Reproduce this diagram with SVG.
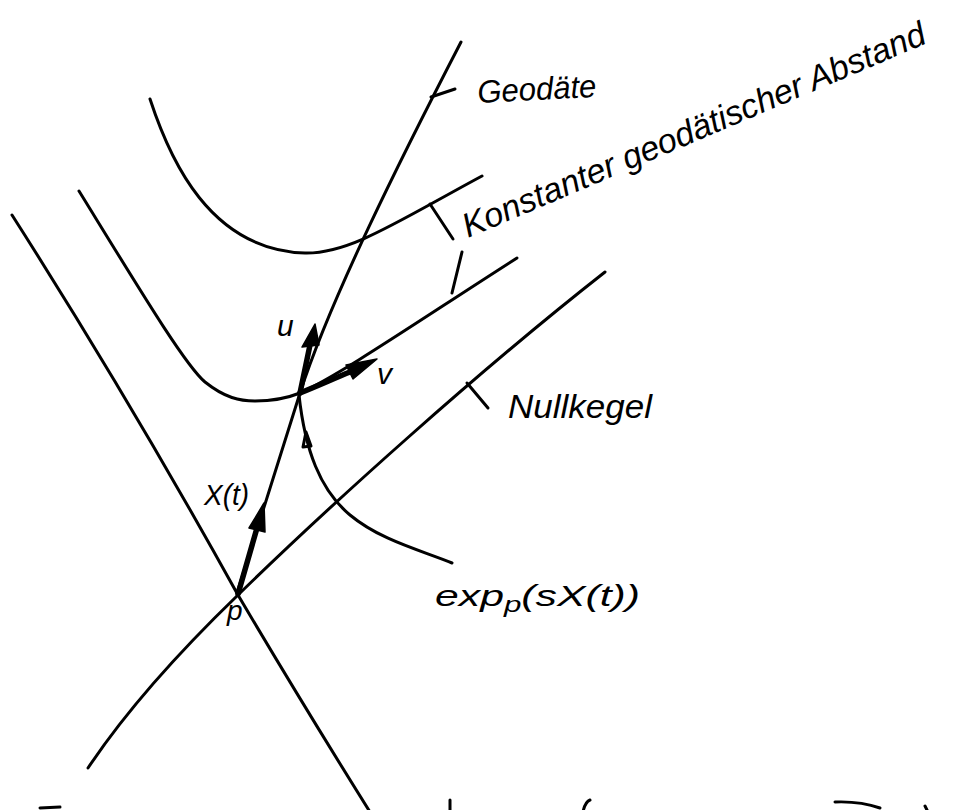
<svg xmlns="http://www.w3.org/2000/svg" width="958" height="810" viewBox="0 0 958 810">
<style>
.ln{fill:none;stroke:#000;stroke-width:3;stroke-linecap:round;stroke-linejoin:round}
.vec{fill:none;stroke:#000;stroke-width:5.5;stroke-linecap:round}
.head{fill:#000;stroke:#000;stroke-width:1.5;stroke-linejoin:round}
.lbl{font-family:"Liberation Sans",Arial,sans-serif;font-style:italic;fill:#000}
</style>
<rect width="958" height="810" fill="#fff"/>
<g id="connectors">
<path id="geodesic" class="ln" d="M461,42 C400,160 330,300 300,393 L237,593"/>
<path id="curve1" class="ln" d="M150,99 C170,160 210,250 305,253 C350,254 400,220 482,176"/>
<path id="curve2" class="ln" d="M79,191 C140,290 185,365 205,382 C225,398 240,401 255,401 C275,401 290,397 300,393 C340,375 420,320 517,258"/>
<path id="cone-left" class="ln" d="M12,215 Q130,400 238,595 Q300,700 370,812"/>
<path id="cone-right" class="ln" d="M88,768 C110,735 150,680 238,595 C330,505 480,370 605,272"/>
<path id="exp-curve" class="ln" d="M299,395 C305,450 320,490 350,515 C380,540 420,550 452,563"/>
<path class="ln" stroke-width="2" d="M303,447 L306,432 L311,446 Z"/>
<path id="tick-geo" class="ln" d="M431,97 L455,89"/>
<path id="tick-k1" class="ln" d="M430,204 L453,239"/>
<path id="tick-k2" class="ln" d="M462,252 L452,293"/>
<path id="tick-null" class="ln" d="M467,383 L488,408"/>
</g>
<g id="vec-X">
<path class="vec" d="M238,594 L257,528"/>
<polygon class="head" points="264,503 249,528 265,532"/>
</g>
<g id="vec-u">
<path class="vec" d="M300,393 L310,345"/>
<polygon class="head" points="315,324 302,347 319,345"/>
</g>
<g id="vec-v">
<path class="vec" d="M300,393 C320,385 335,378 350,372"/>
<polygon class="head" points="377,359 346,365 353,379"/>
</g>
<g id="labels">
<text class="lbl" x="478" y="103" font-size="32" textLength="119" lengthAdjust="spacingAndGlyphs" transform="rotate(-3 478 103)">Geodäte</text>
<text class="lbl" x="468" y="238" font-size="34" textLength="500" lengthAdjust="spacingAndGlyphs" transform="rotate(-23 468 238)">Konstanter geodätischer Abstand</text>
<text class="lbl" x="508" y="418" font-size="34" textLength="144" lengthAdjust="spacingAndGlyphs">Nullkegel</text>
<text class="lbl" x="435" y="606" font-size="30" textLength="205" lengthAdjust="spacingAndGlyphs">exp<tspan font-size="22" dy="6">p</tspan><tspan dy="-6">(sX(t))</tspan></text>
<text class="lbl" x="204" y="505" font-size="30" textLength="45" lengthAdjust="spacingAndGlyphs">X(t)</text>
<text class="lbl" x="277" y="336" font-size="30">u</text>
<text class="lbl" x="377" y="384" font-size="30">v</text>
<text class="lbl" x="227" y="620" font-size="28">p</text>
</g>
<g id="bottom-fragments">
<path class="ln" d="M40,808 L60,807"/>
<path class="ln" d="M450,800 L450,812"/>
<path class="ln" d="M583,812 Q585,802 590,800"/>
<path class="ln" stroke-width="3.5" d="M835,802 Q860,801 880,808"/>
<path class="ln" d="M925,806 L928,812"/>
</g>
</svg>
